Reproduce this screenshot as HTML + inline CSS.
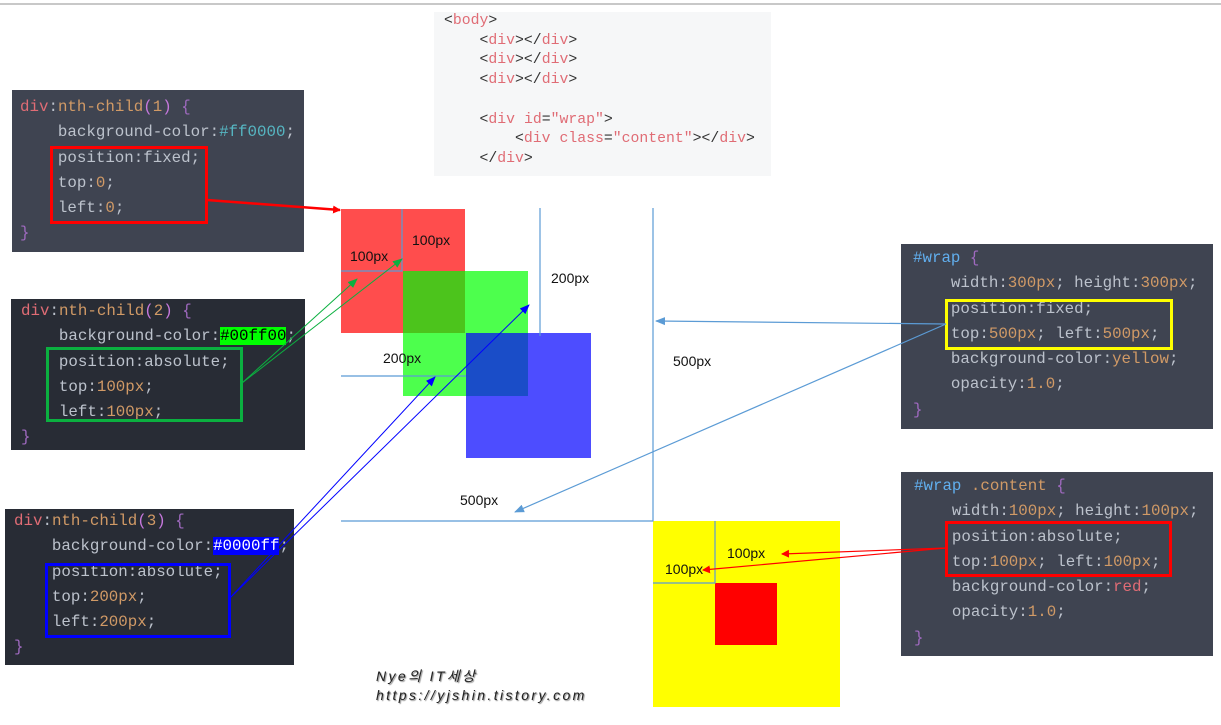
<!DOCTYPE html>
<html><head><meta charset="utf-8"><style>
*{margin:0;padding:0;box-sizing:border-box}
body{width:1221px;height:725px;background:#fff;position:relative;overflow:hidden;font-family:"Liberation Mono",monospace}
.a{position:absolute}
.p{position:absolute;font-size:15.8px;color:#bcc2cc;white-space:pre;line-height:25.3px}
.s{color:#e06c75}.n{color:#d19a66}.h{color:#56b6c2}.b{color:#a06ac0}.w{color:#61afef}.pu{color:#c678dd}
.code{font-size:14.8px;line-height:19.7px;color:#333;white-space:pre}
.t{position:absolute;font-family:"Liberation Sans",sans-serif;font-size:14px;color:#111}
.box{position:absolute;border:3px solid}
</style></head><body>
<div class="a" style="left:0;top:3px;width:1221px;height:2px;background:#c8c8c8"></div>
<div class="a code" style="left:434px;top:12px;width:337px;height:164px;background:#f6f7f8;padding:0 0 0 10px"><div style="position:relative;top:0px">&lt;<span class="s">body</span>&gt;
    &lt;<span class="s">div</span>&gt;&lt;/<span class="s">div</span>&gt;
    &lt;<span class="s">div</span>&gt;&lt;/<span class="s">div</span>&gt;
    &lt;<span class="s">div</span>&gt;&lt;/<span class="s">div</span>&gt;

    &lt;<span class="s">div</span> <span class="s">id</span>=<span class="s">"wrap"</span>&gt;
        &lt;<span class="s">div</span> <span class="s">class</span>=<span class="s">"content"</span>&gt;&lt;/<span class="s">div</span>&gt;
    &lt;/<span class="s">div</span>&gt;</div></div>

<div class="p" style="left:12px;top:90px;width:292px;height:162px;background:#3f4451;padding:5px 0 0 8px"><span class="s">div</span>:<span class="n">nth-child</span><span class="pu">(</span><span class="n">1</span><span class="pu">)</span> <span class="b">{</span>
    background-color:<span class="h">#ff0000</span>;
    position:fixed;
    top:<span class="n">0</span>;
    left:<span class="n">0</span>;
<span class="b">}</span></div>
<div class="box" style="left:50px;top:146px;width:158px;height:78px;border-color:#f00"></div>

<div class="p" style="left:11px;top:299px;width:294px;height:151px;background:#282c35;padding:0 0 0 10px"><span class="s">div</span>:<span class="n">nth-child</span><span class="pu">(</span><span class="n">2</span><span class="pu">)</span> <span class="b">{</span>
    background-color:<span style="background:#0f0;color:#000">#00ff00</span>;
    position:absolute;
    top:<span class="n">100px</span>;
    left:<span class="n">100px</span>;
<span class="b">}</span></div>
<div class="box" style="left:46px;top:347px;width:197px;height:75px;border-color:#0bb040"></div>

<div class="p" style="left:5px;top:509px;width:289px;height:156px;background:#282c35;padding:0 0 0 9px"><span class="s">div</span>:<span class="n">nth-child</span><span class="pu">(</span><span class="n">3</span><span class="pu">)</span> <span class="b">{</span>
    background-color:<span style="background:#00f;color:#fff">#0000ff</span>;
    position:absolute;
    top:<span class="n">200px</span>;
    left:<span class="n">200px</span>;
<span class="b">}</span></div>
<div class="box" style="left:45px;top:563px;width:186px;height:75px;border-color:#00f"></div>

<div class="p" style="left:901px;top:244px;width:312px;height:185px;background:#3f4451;padding:2px 0 0 12px"><span class="w">#wrap</span> <span class="b">{</span>
    width:<span class="n">300px</span>; height:<span class="n">300px</span>;
    position:fixed;
    top:<span class="n">500px</span>; left:<span class="n">500px</span>;
    background-color:<span class="n">yellow</span>;
    opacity:<span class="n">1.0</span>;
<span class="b">}</span></div>
<div class="box" style="left:945px;top:299px;width:228px;height:51px;border-color:#ff0"></div>

<div class="p" style="left:901px;top:472px;width:312px;height:184px;background:#3f4451;padding:2px 0 0 13px"><span class="w">#wrap</span> <span class="n">.content</span> <span class="b">{</span>
    width:<span class="n">100px</span>; height:<span class="n">100px</span>;
    position:absolute;
    top:<span class="n">100px</span>; left:<span class="n">100px</span>;
    background-color:<span class="s">red</span>;
    opacity:<span class="n">1.0</span>;
<span class="b">}</span></div>
<div class="box" style="left:945px;top:521px;width:227px;height:56px;border-color:#f00"></div>

<div class="a" style="left:341px;top:209px;width:124px;height:124px;background:#ff4d4d"></div>
<div class="a" style="left:403px;top:271px;width:125px;height:125px;background:#4dff4d"></div>
<div class="a" style="left:403px;top:271px;width:62px;height:62px;background:#4cc41c"></div>
<div class="a" style="left:466px;top:333px;width:125px;height:125px;background:#4d4dff"></div>
<div class="a" style="left:466px;top:333px;width:62px;height:63px;background:#1a4dc8"></div>
<div class="a" style="left:653px;top:521px;width:187px;height:186px;background:#ffff00"></div>
<div class="a" style="left:715px;top:583px;width:62px;height:62px;background:#ff0000"></div>

<svg class="a" style="left:0;top:0" width="1221" height="725">
<defs>
<marker id="mr" markerWidth="8" markerHeight="8" refX="7" refY="4" orient="auto" markerUnits="userSpaceOnUse"><path d="M0,0L8,4L0,8z" fill="#f00"/></marker>
<marker id="mg" markerWidth="10" markerHeight="10" refX="9" refY="5" orient="auto" markerUnits="userSpaceOnUse"><path d="M0,1L10,5L0,9z" fill="#0bb040"/></marker>
<marker id="mb" markerWidth="10" markerHeight="10" refX="9" refY="5" orient="auto" markerUnits="userSpaceOnUse"><path d="M0,1L10,5L0,9z" fill="#00f"/></marker>
<marker id="ml" markerWidth="10" markerHeight="10" refX="9" refY="5" orient="auto" markerUnits="userSpaceOnUse"><path d="M0,1L10,5L0,9z" fill="#5b9bd5"/></marker>
</defs>
<g stroke="#5b9bd5" stroke-width="1.2" fill="none">
<path d="M402,209V271H341"/>
<path d="M540,208V336"/><path d="M341,376H466"/>
<path d="M653,208V521H341"/>
<path d="M715,521V583H653"/>
<path d="M946,324L656,321" marker-end="url(#ml)"/>
<path d="M946,324L515,512" marker-end="url(#ml)"/>
</g>
<path d="M207,200L340,210" stroke="#f00" stroke-width="2.5" marker-end="url(#mr)"/>
<path d="M242,383L357,279" stroke="#0bb040" stroke-width="1" marker-end="url(#mg)"/>
<path d="M242,383L402,259" stroke="#0bb040" stroke-width="1" marker-end="url(#mg)"/>
<path d="M230,598L435,377" stroke="#00f" stroke-width="1" marker-end="url(#mb)"/>
<path d="M230,598L529,305" stroke="#00f" stroke-width="1" marker-end="url(#mb)"/>
<path d="M946,548L782,554" stroke="#f00" stroke-width="1.2" marker-end="url(#mr)"/>
<path d="M946,548L703,570" stroke="#f00" stroke-width="1.2" marker-end="url(#mr)"/>
</svg>

<div class="t" style="left:350px;top:248px">100px</div>
<div class="t" style="left:412px;top:232px">100px</div>
<div class="t" style="left:551px;top:270px">200px</div>
<div class="t" style="left:383px;top:350px">200px</div>
<div class="t" style="left:673px;top:353px">500px</div>
<div class="t" style="left:460px;top:492px">500px</div>
<div class="t" style="left:727px;top:545px">100px</div>
<div class="t" style="left:665px;top:561px">100px</div>
<div class="a" style="left:376px;top:667px;font-family:'Liberation Sans','Noto Sans CJK KR',sans-serif;font-style:italic;font-size:14px;line-height:19px;color:#222;letter-spacing:2.4px;text-shadow:1px 1px 1px #888">Nye의 IT세상<br>https://yjshin.tistory.com</div>
</body></html>
